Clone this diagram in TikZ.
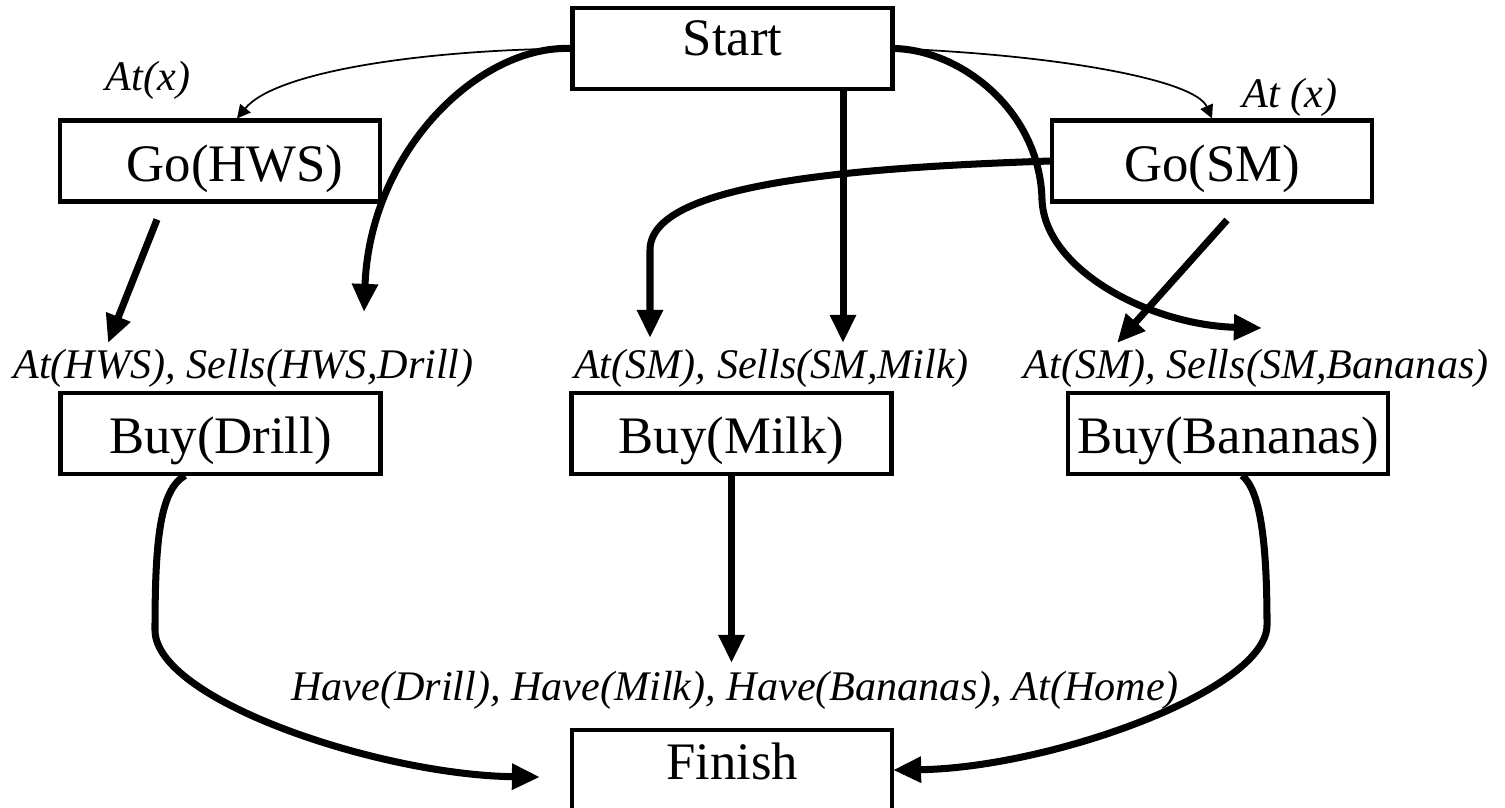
\documentclass[tikz,border=0pt]{standalone}
\usepackage{fontspec}
\setmainfont{Liberation Serif}
\usetikzlibrary{arrows.meta}
\tikzset{
  action/.style={draw, line width=1.15pt, minimum width=3.2cm, minimum height=0.81cm, inner sep=0pt,
    text height=0.5cm, text depth=0.1cm, font=\fontsize{15}{18}\selectfont},
  cond/.style={anchor=base, inner sep=0pt, font=\fontsize{12}{14}\selectfont\itshape},
  link/.style={-{Triangle[length=8pt,width=7pt]}, line width=2pt},
  thinlink/.style={-{Triangle[length=3.8pt,width=3.8pt]}, line width=0.5pt}
}

\begin{document}
\begin{tikzpicture}
    \useasboundingbox (0,0) rectangle (15.05,-8.07);
    \node[action, text height=0.3cm, text depth=0.17cm] (start) at (7.325,-0.485) {Start};
    \node[action] (gohws) at (2.20,-1.61) {\hspace{0.3cm}Go(HWS)};
    \node[action] (gosm) at (12.12,-1.61) {Go(SM)};
    \node[action] (buydrill) at (2.205,-4.33) {Buy(Drill)\hspace{0.5cm}};
    \node[action] (buymilk) at (7.315,-4.33) {Buy(Milk)};
    \node[action] (buybananas) at (12.28,-4.33) {Buy(Bananas)};
    \node[action, minimum height=0.9cm, text height=0.3cm, text depth=0.22cm, anchor=north] (finish) at (7.32,-7.28) {Finish};
    \node[cond] (atx) at (1.48,-0.90) {At(x)};
    \node[cond] (atxsm) at (12.90,-1.07) {At (x)};
    \node[cond] (predrill) at (2.435,-3.78) {At(HWS), Sells(HWS,Drill)};
    \node[cond] (premilk) at (7.715,-3.78) {At(SM), Sells(SM,Milk)};
    \node[cond] (prebananas) at (12.56,-3.78) {At(SM), Sells(SM,Bananas)};
    \node[cond] (goal) at (7.35,-7.00) {Have(Drill), Have(Milk), Have(Bananas), At(Home)};
    \coordinate (hwstip) at (1.08,-3.43);
    \coordinate (starttip) at (3.64,-3.12);
    \coordinate (smtip) at (6.50,-3.38);
    \coordinate (milktip) at (8.43,-3.43);
    \coordinate (smbtip) at (11.17,-3.43);
    \coordinate (bantip) at (12.62,-3.28);
    \coordinate (goaltip) at (7.315,-6.63);
    \coordinate (finleft) at (5.40,-7.77);
    \coordinate (finright) at (8.93,-7.70);
    \draw[thinlink] (start.west) .. controls (4.2,-0.5) and (2.75,-0.72) .. ([xshift=0.17cm]gohws.north);
    \draw[thinlink] (start.east) .. controls (10.6,-0.55) and (11.95,-0.8) .. (gosm.north);
    \draw[link] (start.west) .. controls (4.8,-0.45) and (3.7,-1.5) .. (starttip);
    \draw[link] (milktip |- start.south) -- (milktip);
    \draw[link] (gosm.west) .. controls (8.4,-1.68) and (6.5,-1.85) .. (6.5,-2.5) -- (smtip);
    \draw[link] (start.east) .. controls (9.6,-0.5) and (10.4,-1.1) .. (10.42,-2.0)
        .. controls (10.45,-2.7) and (11.5,-3.25) .. (bantip);
    \draw[link] ([xshift=-0.63cm,yshift=-0.16cm]gohws.south) -- (hwstip);
    \draw[link] ([xshift=0.15cm,yshift=-0.165cm]gosm.south) -- (smbtip);
    \draw[link] (buymilk.south) -- (goaltip);
    \draw[link] ([xshift=-0.355cm]buydrill.south) .. controls (1.6,-4.9) and (1.55,-5.4) .. (1.55,-6.3)
        .. controls (1.55,-7.0) and (3.8,-7.75) .. (finleft);
    \draw[link] ([xshift=0.14cm]buybananas.south) .. controls (12.6,-4.9) and (12.67,-5.4) .. (12.67,-6.25)
        .. controls (12.67,-6.9) and (10.5,-7.68) .. (finright);
\end{tikzpicture}
\end{document}
